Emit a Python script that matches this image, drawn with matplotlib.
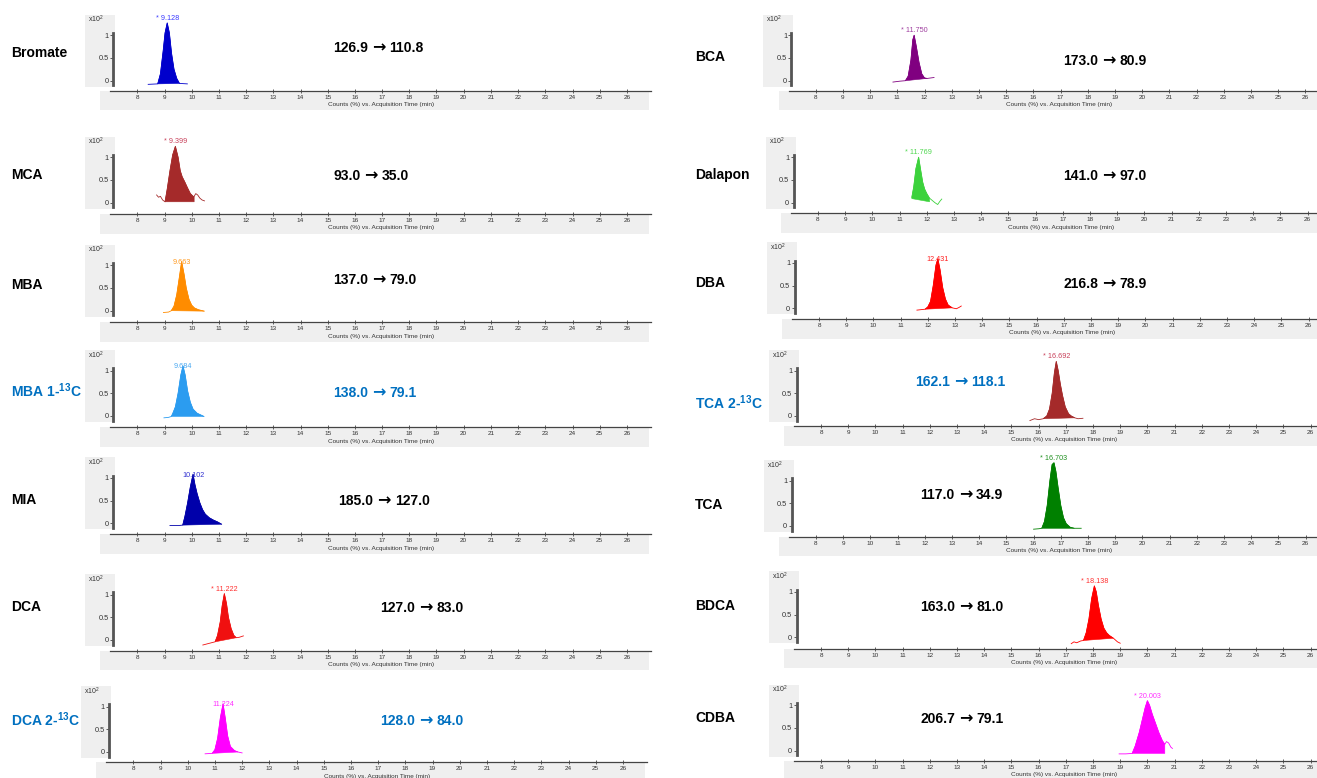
import numpy as np
import matplotlib
matplotlib.use("Agg")
import matplotlib.pyplot as plt
from matplotlib.patches import Rectangle

plt.rcParams['font.family'] = ['Liberation Sans', 'DejaVu Sans']
plt.rcParams['mathtext.fontset'] = 'custom'
plt.rcParams['mathtext.rm'] = 'Liberation Sans'
plt.rcParams['mathtext.bf'] = 'Liberation Sans:bold'
plt.rcParams['mathtext.default'] = 'regular'

# ---------------- data ----------------
names = ["Bromate", "MCA", "MBA", r"MBA 1-$^{\mathbf{13}}$C", "MIA", "DCA", r"DCA 2-$^{\mathbf{13}}$C",
         "BCA", "Dalapon", "DBA", r"TCA 2-$^{\mathbf{13}}$C", "TCA", "BDCA", "CDBA"]
precursor = ["126.9", "93.0", "137.0", "138.0", "185.0", "127.0", "128.0",
             "173.0", "141.0", "216.8", "162.1", "117.0", "163.0", "206.7"]
product = ["110.8", "35.0", "79.0", "79.1", "127.0", "83.0", "84.0",
           "80.9", "97.0", "78.9", "118.1", "34.9", "81.0", "79.1"]
labelled_13c = [False, False, False, True, False, False, True,
                False, False, False, True, False, False, False]
rt_labels = ["* 9.128", "* 9.399", "9.663", "9.684", "10.102", "* 11.222", "11.224",
             "* 11.750", "* 11.769", "12.431", "* 16.692", "* 16.703", "* 18.138", "* 20.003"]
colors = ["#0000cc", "#a52a2a", "#ff8c00", "#2b9cf0", "#0000aa", "#f01010", "#ff00ff",
          "#800080", "#3cd23c", "#ff0000", "#a52a2a", "#008000", "#ff0000", "#ff00ff"]
label_colors = ["#3a3aff", "#c8405a", "#ff9a20", "#4aa8f0", "#3030d0", "#ff3030", "#ff30ff",
                "#a040a0", "#50d850", "#ff2020", "#c8405a", "#209020", "#ff3030", "#ff30ff"]

t_bromate = [8.40, 8.75, 8.85, 8.95, 9.02, 9.10, 9.18, 9.26, 9.35, 9.45, 9.55, 9.84]
i_bromate = [-0.08, -0.07, 0.15, 0.65, 1.05, 1.27, 1.05, 0.60, 0.25, 0.05, -0.06, -0.07]

t_mca = [8.71, 8.78, 8.85, 8.93, 9.02, 9.10, 9.20, 9.30, 9.40, 9.50, 9.58, 9.65, 9.75, 9.85,
         9.95, 10.05, 10.09, 10.15, 10.22, 10.30, 10.38, 10.47]
i_mca = [0.17, 0.12, 0.14, 0.06, 0.02, 0.30, 0.70, 1.05, 1.24, 1.00, 0.70, 0.57, 0.45, 0.32,
         0.20, 0.14, 0.14, 0.20, 0.17, 0.10, 0.06, 0.04]

t_mba = [8.96, 9.15, 9.25, 9.35, 9.45, 9.55, 9.63, 9.72, 9.80, 9.90, 10.00, 10.10, 10.25, 10.46]
i_mba = [-0.04, -0.03, 0.00, 0.10, 0.35, 0.75, 1.08, 0.80, 0.50, 0.25, 0.12, 0.06, 0.02, -0.01]

t_mba13 = [8.98, 9.15, 9.25, 9.30, 9.40, 9.50, 9.60, 9.68, 9.76, 9.85, 9.95, 10.05, 10.20, 10.45]
i_mba13 = [-0.04, -0.03, -0.01, 0.05, 0.20, 0.50, 0.90, 1.10, 0.90, 0.55, 0.30, 0.15, 0.06, -0.01]

t_mia = [9.20, 9.50, 9.67, 9.75, 9.85, 9.95, 10.05, 10.12, 10.20, 10.30, 10.40, 10.50, 10.65,
         10.80, 10.95, 11.10]
i_mia = [-0.05, -0.05, -0.04, 0.15, 0.45, 0.80, 1.08, 0.85, 0.65, 0.45, 0.30, 0.20, 0.12,
         0.07, 0.03, -0.02]

t_dca = [10.41, 10.60, 10.86, 10.95, 11.05, 11.12, 11.20, 11.28, 11.35, 11.45, 11.55, 11.64,
         11.75, 11.90]
i_dca = [-0.11, -0.08, -0.04, 0.10, 0.40, 0.75, 1.02, 0.80, 0.50, 0.25, 0.10, 0.05, 0.06, 0.09]

t_dca13 = [10.64, 10.90, 11.00, 11.10, 11.20, 11.30, 11.38, 11.47, 11.57, 11.72, 11.85, 12.00]
i_dca13 = [-0.04, -0.03, 0.05, 0.30, 0.75, 1.06, 0.75, 0.35, 0.12, 0.03, 0.00, -0.02]

t_bca = [10.84, 11.10, 11.30, 11.40, 11.50, 11.57, 11.62, 11.70, 11.80, 11.90, 12.00, 12.10, 12.35]
i_bca = [-0.03, -0.01, 0.00, 0.10, 0.45, 0.90, 1.00, 0.75, 0.40, 0.15, 0.06, 0.05, 0.07]

t_dalapon = [11.45, 11.52, 11.60, 11.70, 11.78, 11.85, 11.92, 12.00, 12.10, 12.20, 12.30,
             12.40, 12.48, 12.55]
i_dalapon = [0.12, 0.35, 0.75, 1.00, 0.70, 0.45, 0.30, 0.20, 0.10, 0.05, 0.00, -0.04, 0.03, 0.08]

t_dba = [11.60, 11.90, 12.00, 12.10, 12.20, 12.30, 12.37, 12.45, 12.55, 12.65, 12.75, 12.90,
         13.05, 13.15, 13.23]
i_dba = [-0.04, -0.02, 0.03, 0.15, 0.50, 0.95, 1.09, 0.85, 0.45, 0.20, 0.07, 0.01, -0.01, 0.02, 0.05]

t_tca13 = [15.68, 15.85, 16.00, 16.17, 16.30, 16.40, 16.50, 16.58, 16.65, 16.72, 16.80, 16.88,
           16.98, 17.10, 17.20, 17.33, 17.45, 17.63]
i_tca13 = [-0.10, -0.06, -0.08, -0.06, 0.00, 0.15, 0.50, 0.95, 1.20, 1.00, 0.70, 0.45,
           0.20, 0.05, 0.00, -0.04, -0.06, -0.05]

t_tca = [16.00, 16.20, 16.30, 16.40, 16.50, 16.60, 16.68, 16.75, 16.82, 16.90, 17.00, 17.10,
         17.20, 17.35, 17.50, 17.75]
i_tca = [-0.07, -0.06, -0.05, 0.10, 0.45, 1.00, 1.35, 1.39, 1.20, 0.85, 0.45, 0.18,
         0.05, -0.03, -0.05, -0.05]

t_bdca = [17.20, 17.30, 17.40, 17.55, 17.65, 17.75, 17.85, 17.95, 18.05, 18.12, 18.20, 18.30,
          18.40, 18.50, 18.60, 18.75, 18.90, 19.00]
i_bdca = [-0.14, -0.10, -0.12, -0.08, -0.07, 0.10, 0.40, 0.85, 1.13, 1.00, 0.70, 0.40,
          0.20, 0.10, 0.04, -0.02, -0.10, -0.13]

t_cdba = [18.96, 19.20, 19.44, 19.55, 19.70, 19.82, 19.92, 20.00, 20.08, 20.18, 20.30, 20.42,
          20.55, 20.64, 20.70, 20.78, 20.86, 20.92]
i_cdba = [-0.07, -0.07, -0.06, 0.10, 0.40, 0.70, 0.95, 1.10, 1.00, 0.80, 0.60, 0.40,
          0.22, 0.14, 0.20, 0.17, 0.08, 0.05]

traces_t = [t_bromate, t_mca, t_mba, t_mba13, t_mia, t_dca, t_dca13,
            t_bca, t_dalapon, t_dba, t_tca13, t_tca, t_bdca, t_cdba]
traces_i = [i_bromate, i_mca, i_mba, i_mba13, i_mia, i_dca, i_dca13,
            i_bca, i_dalapon, i_dba, i_tca13, i_tca, i_bdca, i_cdba]
# integration window (start, end) and baseline values at those ends
int_start = [8.75, 9.02, 9.25, 9.25, 9.67, 10.86, 10.90, 11.30, 11.45, 11.90, 16.17, 16.30, 17.65, 19.44]
int_end = [9.55, 10.09, 10.46, 10.45, 11.10, 11.64, 11.85, 12.10, 12.10, 12.90, 17.33, 17.50, 18.75, 20.64]
base_start = [-0.07, 0.02, 0.00, -0.01, -0.04, -0.04, -0.03, 0.00, 0.09, -0.02, -0.06, -0.05, -0.07, -0.06]
base_end = [-0.06, 0.02, -0.01, -0.01, -0.02, 0.05, 0.00, 0.05, 0.02, 0.01, -0.04, -0.05, -0.02, -0.06]

x_ticks = list(range(8, 27))
y_ticks = [0, 0.5, 1]
y_ticklabels = ["0", "0.5", "1"]

# ---------------- layout (pixels) ----------------
W, H = 1317, 778
panel_x8 = [137.3, 137.3, 137.3, 137.3, 137.3, 137.3, 133.3,
            815.7, 818.0, 819.0, 821.0, 816.0, 821.0, 821.0]
panel_y0 = [80.7, 202.7, 310.7, 416.0, 523.3, 640.0, 752.0,
            80.7, 202.7, 308.3, 416.0, 526.0, 637.3, 750.7]
panel_ax = [90.7, 214.0, 322.3, 427.3, 534.3, 650.7, 762.3,
            90.7, 213.3, 319.0, 426.0, 536.7, 648.7, 761.0]
name_x = [11] * 7 + [695] * 7
name_y = [53, 175, 285, 391, 500, 607, 720, 57, 175, 283, 403, 505, 606, 718]
trans_x = [378, 371, 375, 375, 384, 422, 422, 1105, 1105, 1105, 960, 962, 962, 962]
trans_y = [47, 175, 279, 392, 500, 607, 720, 60, 175, 283, 381, 494, 606, 718]

PPM = 27.2
PPU = 45.5
XMIN, XMAX = 7.0, 26.9
YAX_T = 7.1
GRAY = "#efefef"
AXC = "#444444"

fig = plt.figure(figsize=(W / 100, H / 100), dpi=100)
fig.patch.set_facecolor("white")
renderer = fig.canvas.get_renderer()


def fx(px):
    return px / W


def fy(py):
    return 1 - py / H


def rect_px(x0, y0, x1, y1):
    r = Rectangle((fx(x0), fy(y1)), (x1 - x0) / W, (y1 - y0) / H,
                  transform=fig.transFigure, facecolor=GRAY, edgecolor="none", zorder=-5)
    fig.add_artist(r)


def width_px(txt):
    return txt.get_window_extent(renderer=renderer).width


def transition(cx, cy, a, b, color):
    base_y = cy + 5.0
    t1 = fig.text(0, fy(base_y), a, fontsize=10, fontweight="bold", color=color,
                  ha="left", va="baseline")
    ar = fig.text(0, fy(base_y + 0.3), "→", fontsize=11.5, fontweight="bold", color=color,
                  family="DejaVu Sans", ha="left", va="baseline")
    t3 = fig.text(0, fy(base_y), b, fontsize=10, fontweight="bold", color=color,
                  ha="left", va="baseline")
    w1, wa, w3 = width_px(t1), width_px(ar), width_px(t3)
    gap = 4.0
    total = w1 + wa + w3 + 2 * gap
    x = cx - total / 2
    t1.set_x(fx(x))
    ar.set_x(fx(x + w1 + gap))
    t3.set_x(fx(x + w1 + gap + wa + gap))


for k in range(14):
    x8, y0, axy = panel_x8[k], panel_y0[k], panel_ax[k]
    left_px = x8 - (8 - XMIN) * PPM
    right_px = x8 + (XMAX - 8) * PPM
    ybot = -(axy - y0) / PPU
    ytop = 1.6
    top_px = y0 - ytop * PPU
    yaxis_px = x8 - (8 - YAX_T) * PPM

    rect_px(yaxis_px - 28, y0 - 66, yaxis_px + 2, y0 + 6)
    rect_px(x8 - 37, axy, x8 + 512, axy + 19.5)

    ax = fig.add_axes([fx(left_px), fy(axy), (right_px - left_px) / W, (axy - top_px) / H])
    ax.set_facecolor("none")
    ax.set_xlim(XMIN, XMAX)
    ax.set_ylim(ybot, ytop)
    for s in ["top", "right"]:
        ax.spines[s].set_visible(False)
    ax.spines["bottom"].set_color(AXC)
    ax.spines["bottom"].set_linewidth(0.9)
    ax.spines["left"].set_position(("data", YAX_T))
    ax.spines["left"].set_bounds(-0.1, 1.05)
    ax.spines["left"].set_linewidth(2.0)
    ax.spines["left"].set_color("#555555")

    ax.set_xticks(x_ticks)
    ax.set_xticklabels([str(v) for v in x_ticks])
    ax.tick_params(axis="x", direction="inout", length=3, width=0.6, color=AXC,
                   labelsize=4.6, pad=1.5, labelcolor="#333333")
    ax.set_yticks(y_ticks)
    ax.set_yticklabels(y_ticklabels)
    ax.tick_params(axis="y", direction="out", length=2, width=0.6, color=AXC,
                   labelsize=5.3, pad=1, labelcolor="#333333")
    ax.set_xlabel("Counts (%) vs. Acquisition Time (min)", fontsize=4.6, labelpad=1.5,
                  color="#333333")

    fig.text(fx(yaxis_px - 25), fy(y0 - 61), r"x10$^{2}$", fontsize=5.0, color="#333333",
             ha="left", va="center")

    t = np.array(traces_t[k])
    v = np.array(traces_i[k])
    c = colors[k]
    ax.plot(t, v, color=c, lw=0.6, clip_on=False)
    m = (t >= int_start[k]) & (t <= int_end[k])
    px_ = np.r_[t[m], int_end[k], int_start[k]]
    py_ = np.r_[v[m], base_end[k], base_start[k]]
    ax.fill(px_, py_, color=c, lw=0.4)

    ia = int(np.argmax(v))
    starred = rt_labels[k].startswith("*")
    ax.text(t[ia], v[ia] + (0.02 if starred else -0.02), rt_labels[k], fontsize=5.2,
            color=label_colors[k], ha="center", va="bottom" if starred else "center",
            clip_on=False)

    tc = "#0070C0" if labelled_13c[k] else "black"
    fig.text(fx(name_x[k]), fy(name_y[k]), names[k], fontsize=10, fontweight="bold",
             color=tc, ha="left", va="center")
    transition(trans_x[k], trans_y[k], precursor[k], product[k], tc)

fig.savefig("out.png", dpi=100, facecolor="white")
